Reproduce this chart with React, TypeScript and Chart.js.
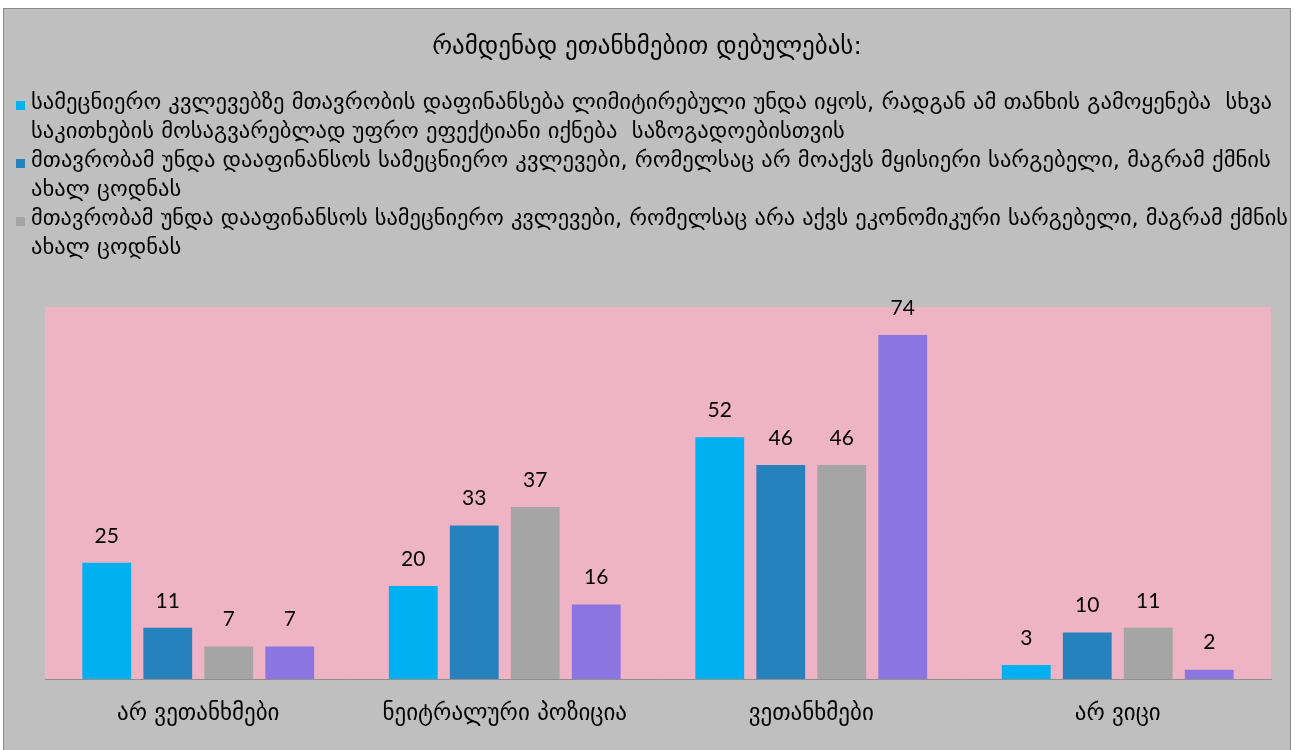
import React, { useEffect, useRef } from "react";
import { Chart, registerables } from "chart.js";

Chart.register(...registerables);

const titleText = "რამდენად ეთანხმებით დებულებას:";

const categories = ["არ ვეთანხმები", "ნეიტრალური პოზიცია", "ვეთანხმები", "არ ვიცი"];

const series1Label = [
  "სამეცნიერო კვლევებზე მთავრობის დაფინანსება ლიმიტირებული უნდა იყოს, რადგან ამ თანხის გამოყენება  სხვა",
  "საკითხების მოსაგვარებლად უფრო ეფექტიანი იქნება  საზოგადოებისთვის",
];
const series2Label = [
  "მთავრობამ უნდა დააფინანსოს სამეცნიერო კვლევები, რომელსაც არ მოაქვს მყისიერი სარგებელი, მაგრამ ქმნის",
  "ახალ ცოდნას",
];
const series3Label = [
  "მთავრობამ უნდა დააფინანსოს სამეცნიერო კვლევები, რომელსაც არა აქვს ეკონომიკური სარგებელი, მაგრამ ქმნის",
  "ახალ ცოდნას",
];
const series4Label = [""];

const series1 = [25, 20, 52, 3];
const series2 = [11, 33, 46, 10];
const series3 = [7, 37, 46, 11];
const series4 = [7, 16, 74, 2];

const colors = ["#00B0F0", "#2681BC", "#A5A5A5", "#8B75E0"];

const W = 1298;
const H = 750;
const GEO_FONT = "'DejaVu Sans', 'Noto Sans', sans-serif";
const NUM_FONT = "Lato, 'Open Sans', sans-serif";

const decorPlugin = {
  id: "decor",
  beforeDraw(chart: any) {
    const ctx = chart.ctx;
    ctx.save();
    ctx.fillStyle = "#FFFFFF";
    ctx.fillRect(0, 0, W, H);
    ctx.fillStyle = "#BFBFBF";
    ctx.fillRect(3, 8, 1287, H - 8);
    ctx.strokeStyle = "#8C8C8C";
    ctx.lineWidth = 1;
    ctx.strokeRect(3.5, 8.5, 1287, H + 10);
    const a = chart.chartArea;
    ctx.fillStyle = "#EEB3C5";
    ctx.fillRect(a.left, a.top, a.right - a.left, a.bottom - a.top);
    ctx.restore();
  },
  afterDraw(chart: any) {
    const ctx = chart.ctx;
    ctx.save();
    // title
    ctx.fillStyle = "#000000";
    ctx.font = `25px ${GEO_FONT}`;
    ctx.textAlign = "center";
    ctx.textBaseline = "middle";
    ctx.fillText(titleText, 647, 47);
    // legend
    ctx.textAlign = "left";
    ctx.font = `22.6px ${GEO_FONT}`;
    const lineH = 29;
    let y = 103;
    chart.data.datasets.forEach((ds: any) => {
      const lines: string[] = ds.legendLines;
      if (!lines || !lines[0]) return;
      ctx.fillStyle = ds.backgroundColor;
      ctx.fillRect(16, y - 2, 9, 9);
      ctx.fillStyle = "#000000";
      lines.forEach((ln, j) => {
        ctx.fillText(ln, 31, y + j * lineH, 1257);
      });
      y += lines.length * lineH;
    });
    // data labels
    ctx.textAlign = "center";
    ctx.textBaseline = "middle";
    ctx.font = `21px ${NUM_FONT}`;
    ctx.fillStyle = "#000000";
    chart.data.datasets.forEach((ds: any, i: number) => {
      const meta = chart.getDatasetMeta(i);
      meta.data.forEach((el: any, j: number) => {
        ctx.fillText(String(ds.data[j]), el.x, el.y - 27);
      });
    });
    ctx.restore();
  },
};

export default function App() {
  const ref = useRef<HTMLCanvasElement | null>(null);
  useEffect(() => {
    document.body.style.margin = "0";
    const canvas = ref.current;
    if (!canvas) return;
    const mk = (label: string[], data: number[], c: string) => ({
      label: label.join(" "),
      legendLines: label,
      data,
      backgroundColor: c,
      borderColor: c,
      borderWidth: 0,
      categoryPercentage: 0.796,
      barPercentage: 0.8,
    });
    const chart = new Chart(canvas, {
      type: "bar",
      data: {
        labels: categories,
        datasets: [
          mk(series1Label, series1, colors[0]),
          mk(series2Label, series2, colors[1]),
          mk(series3Label, series3, colors[2]),
          mk(series4Label, series4, colors[3]),
        ] as any,
      },
      options: {
        responsive: false,
        animation: false,
        devicePixelRatio: 1,
        layout: { padding: { top: 307, left: 45, right: 27, bottom: 0 } },
        plugins: {
          legend: { display: false },
          title: { display: false },
          tooltip: { enabled: false },
        },
        scales: {
          x: {
            grid: { display: false, drawTicks: false },
            border: { display: true, color: "#8E8E8E", width: 1 },
            ticks: {
              color: "#000000",
              padding: 21,
              font: { family: GEO_FONT, size: 23 },
              maxRotation: 0,
              autoSkip: false,
            },
            afterFit: (scale: any) => {
              scale.height = 71;
            },
          },
          y: {
            display: false,
            min: 0,
            max: 80,
          },
        },
      },
      plugins: [decorPlugin],
    });
    return () => chart.destroy();
  }, []);
  return <canvas ref={ref} width={W} height={H} style={{ display: "block" }} />;
}
